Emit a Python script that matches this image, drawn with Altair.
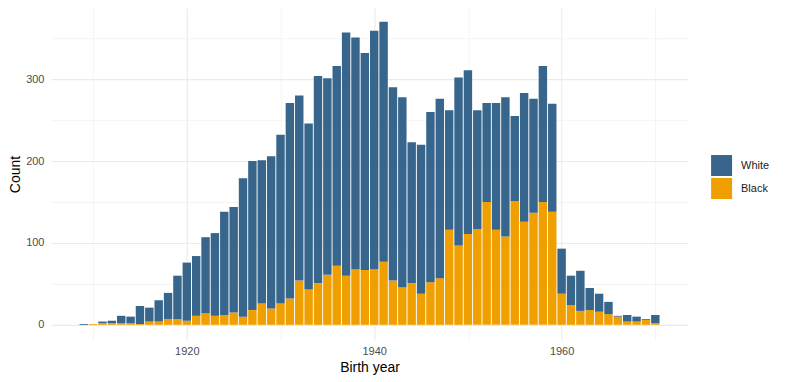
import altair as alt
import pandas as pd

years = list(range(1909, 1971))
white = [1, 0, 2, 3, 9, 8, 22, 17, 26, 32, 53, 71, 73, 93, 101, 126, 129, 169, 182, 175,
         186, 206, 239, 226, 203, 253, 240, 244, 297, 283, 265, 291, 293, 236, 232, 172,
         182, 208, 219, 146, 205, 200, 145, 121, 155, 170, 104, 157, 139, 166, 132, 55,
         36, 49, 27, 22, 15, 1, 8, 6, 1, 10]
black = [0, 1, 2, 2, 2, 2, 1, 4, 4, 7, 7, 5, 11, 14, 11, 12, 15, 10, 18, 26,
         20, 26, 32, 54, 43, 51, 61, 72, 60, 68, 67, 68, 77, 54, 46, 51,
         38, 52, 57, 116, 97, 111, 117, 150, 116, 108, 151, 126, 137, 150, 138, 38,
         24, 17, 18, 16, 13, 10, 4, 4, 6, 2]
groups = ["White", "Black"]
colors = ["#37658C", "#F09F00"]

rows = []
for y, w, b in zip(years, white, black):
    rows.append({"year": y, "race": "Black", "ord": 0, "count": b})
    rows.append({"year": y, "race": "White", "ord": 1, "count": w})
df = pd.DataFrame(rows)

FONT = "Liberation Sans"

chart = alt.Chart(df).transform_stack(
    stack="count", groupby=["year"], as_=["y0", "y1"],
    sort=[alt.SortField("ord", order="ascending")]
).transform_calculate(
    xa="datum.year - 0.45", xb="datum.year + 0.45"
).mark_bar(strokeWidth=0).encode(
    x=alt.X("xa:Q", title="Birth year",
            scale=alt.Scale(domain=[1905.5, 1973.5], nice=False, zero=False),
            axis=alt.Axis(values=[1910, 1920, 1930, 1940, 1950, 1960, 1970], format="d",
                          labelExpr="datum.value % 20 === 0 ? datum.label : ''",
                          domain=False, ticks=False, gridColor="#EBEBEB",
                          gridWidth={"expr": "datum.value % 20 === 0 ? 1.1 : 0.55"},
                          labelFont=FONT, labelFontSize=11, labelColor="#4D4D4D",
                          labelPadding=6, titleFont=FONT, titleFontSize=14,
                          titleFontWeight="normal", titleColor="#000000", titlePadding=4)),
    x2="xb:Q",
    y=alt.Y("y0:Q", title="Count",
            scale=alt.Scale(domain=[-18.3, 386.6], nice=False, zero=False),
            axis=alt.Axis(values=[0, 50, 100, 150, 200, 250, 300, 350], format="d",
                          labelExpr="datum.value % 100 === 0 ? datum.label : ''",
                          domain=False, ticks=False, gridColor="#EBEBEB",
                          gridWidth={"expr": "datum.value % 100 === 0 ? 1.1 : 0.55"},
                          labelFont=FONT, labelFontSize=11, labelColor="#4D4D4D",
                          labelPadding=7, titleFont=FONT, titleFontSize=14,
                          titleFontWeight="normal", titleColor="#000000", titlePadding=3)),
    y2="y1:Q",
    color=alt.Color("race:N", scale=alt.Scale(domain=groups, range=colors),
                    legend=alt.Legend(title=None, orient="none", legendX=661, legendY=147,
                                      symbolType="square", symbolSize=441,
                                      symbolStrokeWidth=0, symbolOpacity=1,
                                      labelFont=FONT, labelFontSize=11,
                                      labelColor="#1A1A1A", labelOffset=9,
                                      rowPadding=2, padding=0)),
).properties(
    width=638, height=332,
    background="white",
    autosize=alt.AutoSizeParams(type="none"),
    padding={"left": 43, "top": 0, "right": 90, "bottom": 40},
).configure_view(strokeWidth=0, stroke="transparent")

chart.save("out.html", embed_options={"renderer": "svg", "actions": False})
